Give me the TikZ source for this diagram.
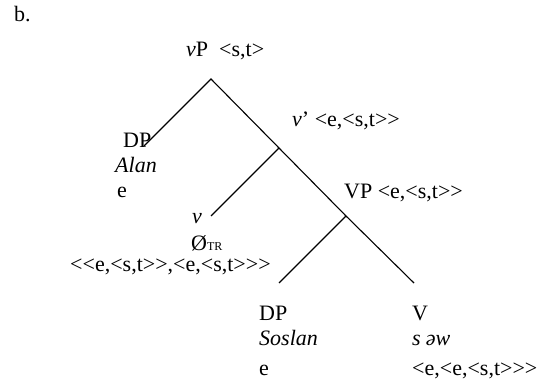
\documentclass[tikz,border=0pt]{standalone}
\usepackage{fontspec}
\setmainfont{Liberation Serif}
\newcommand\la{<\kern0pt }
\newcommand\ra{>\kern0pt }
\begin{document}
\begin{tikzpicture}[x=1pt,y=-1pt,
  lbl/.style={anchor=base west,inner sep=0pt,font=\fontsize{22}{26}\selectfont},
  branch/.style={line width=1.1pt,black}]
\useasboundingbox (0,0) rectangle (540,379);
% junctions and leaves
\coordinate (vP) at (211,79);
\coordinate (vbar) at (279,148);
\coordinate (VP) at (346,216);
\coordinate (dpA) at (144,146);
\coordinate (vhead) at (211,216);
\coordinate (dpS) at (279,283);
\coordinate (Vend) at (414,283);
\draw[branch] (dpA) -- (vP) -- (vbar) -- (VP) -- (Vend);
\draw[branch] (vbar) -- (vhead);
\draw[branch] (VP) -- (dpS);
% labels
\node[lbl] (b) at (14,22) {b.};
\node[lbl] (vPl) at (186,57) {\textit{v}P\ \ \la s,t\ra};
\node[lbl] (vbarl) at (292,127) {\textit{v}’ \la e,\la s,t\ra\ra};
\node[lbl] (dp1) at (123,148) {DP};
\node[lbl] (alan) at (115,173) {\textit{Alan}};
\node[lbl] (e1) at (117,198) {e};
\node[lbl] (vl) at (192,223) {\textit{v}};
\node[lbl] (null) at (191,251) {Ø{\fontsize{12}{14}\selectfont TR}};
\node[lbl] (vtype) at (70,271) {\la\la e,\la s,t\ra\ra,\la e,\la s,t\ra\ra\ra};
\node[lbl] (VPl) at (344,199) {VP \la e,\la s,t\ra\ra};
\node[lbl] (dp2) at (259,320) {DP};
\node[lbl] (soslan) at (259,345) {\textit{Soslan}};
\node[lbl] (e2) at (259,375) {e};
\node[lbl] (Vl) at (412,320) {V};
\node[lbl] (saw) at (412,345) {\textit{s\hspace{5pt}əw}};
\node[lbl] (Vtype) at (412,375) {\la e,\la e,\la s,t\ra\ra\ra};
\end{tikzpicture}
\end{document}
